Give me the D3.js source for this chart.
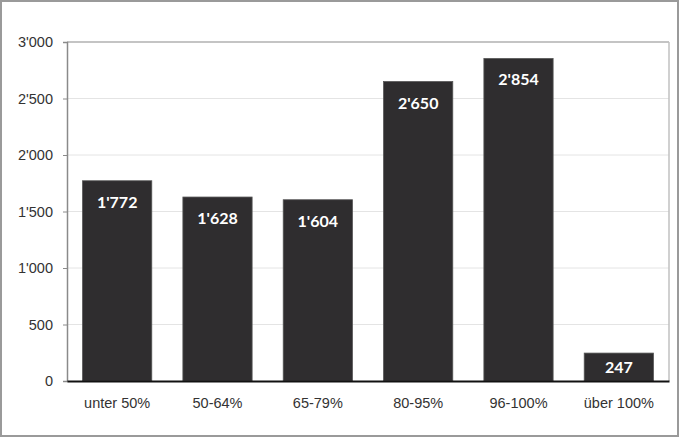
<!DOCTYPE html>
<html>
<head>
<meta charset="utf-8">
<script src="https://cdn.jsdelivr.net/npm/d3@7"></script>
<style>
  body { margin: 0; background: #fff; }
  svg { display: block; font-family: Lato, "Open Sans", sans-serif; }
</style>
</head>
<body>
<script>
// data
var categories = ["unter 50%", "50-64%", "65-79%", "80-95%", "96-100%", "über 100%"];
var values = [1772, 1628, 1604, 2650, 2854, 247];
var yTicks = [0, 500, 1000, 1500, 2000, 2500, 3000];

var W = 680, H = 438;
// plot area (note: "top" is taken by window.top)
var pLeft = 67, pRight = 669, pTop = 42, pBottom = 381;

// swiss thousands separator
function fmt(d) {
  var s = String(d);
  return s.length > 3 ? s.slice(0, s.length - 3) + "'" + s.slice(-3) : s;
}

var svg = d3.select("body").append("svg")
  .attr("width", W)
  .attr("height", H);

svg.append("rect")
  .attr("x", 1).attr("y", 1)
  .attr("width", W - 3).attr("height", H - 3)
  .attr("fill", "#fff")
  .attr("stroke", "#9a9a9a")
  .attr("stroke-width", 2);

var x = d3.scaleBand()
  .domain(categories)
  .range([pLeft, pRight])
  .paddingInner(0.31)
  .paddingOuter(0.155);

var y = d3.scaleLinear()
  .domain([0, 3000])
  .range([pBottom, pTop]);

// gridlines
svg.selectAll("line.grid")
  .data(yTicks.slice(1))
  .enter()
  .append("line")
  .attr("class", "grid")
  .attr("x1", pLeft)
  .attr("x2", pRight)
  .attr("y1", function(d) { return y(d); })
  .attr("y2", function(d) { return y(d); })
  .attr("stroke", function(d) { return d == 3000 ? "#b0b0b0" : "#e4e4e4"; })
  .attr("stroke-width", function(d) { return d == 3000 ? 1.5 : 1; });

// right border of plot area
svg.append("line")
  .attr("x1", pRight).attr("x2", pRight)
  .attr("y1", pTop).attr("y2", pBottom)
  .attr("stroke", "#c0c0c0")
  .attr("stroke-width", 1.5);

// y axis
var yAxis = svg.append("g")
  .attr("transform", "translate(" + pLeft + ",0)")
  .call(d3.axisLeft(y).tickValues(yTicks).tickSize(4).tickPadding(10).tickFormat(fmt));
yAxis.select(".domain").attr("stroke", "#8a8a8a").attr("stroke-width", 1.5);
yAxis.selectAll(".tick line").attr("stroke", "#8a8a8a");
yAxis.selectAll("text").attr("font-size", "14.5px").attr("fill", "#333");

// bars
svg.selectAll("rect.bar")
  .data(values)
  .enter()
  .append("rect")
  .attr("class", "bar")
  .attr("x", function(d, i) { return x(categories[i]); })
  .attr("y", function(d) { return y(d); })
  .attr("width", x.bandwidth())
  .attr("height", function(d) { return pBottom - y(d); })
  .attr("fill", "#2f2d2f")
  .attr("stroke", "#555")
  .attr("stroke-width", 0.8);

// value labels
svg.selectAll("text.val")
  .data(values)
  .enter()
  .append("text")
  .attr("class", "val")
  .text(function(d) { return fmt(d); })
  .attr("x", function(d, i) { return x(categories[i]) + x.bandwidth() / 2; })
  .attr("y", function(d) {
    return Math.min(y(d) + 27, (y(d) + pBottom) / 2 + 6);
  })
  .attr("text-anchor", "middle")
  .attr("font-size", "16px")
  .attr("font-weight", "bold")
  .attr("fill", "#fff");

// x axis
var xAxis = svg.append("g")
  .attr("transform", "translate(0," + pBottom + ")")
  .call(d3.axisBottom(x).tickSize(0).tickPadding(17));
xAxis.select(".domain").attr("stroke", "#111").attr("stroke-width", 2);
xAxis.selectAll("text").attr("font-size", "14.5px").attr("fill", "#333");
</script>
</body>
</html>
